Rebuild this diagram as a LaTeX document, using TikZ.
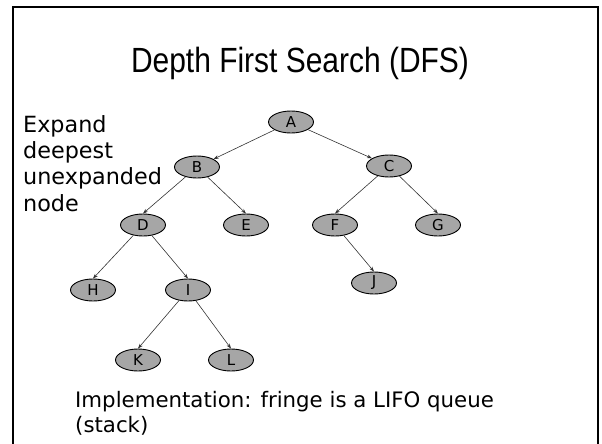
\documentclass[tikz,border=0pt]{standalone}
\usepackage{fontspec}
\setmainfont{DejaVu Sans}
\newfontfamily\titlefont{Liberation Sans}
\usetikzlibrary{shapes.geometric,arrows.meta}
\definecolor{nodegray}{HTML}{A6A6A6}
\definecolor{edgegray}{HTML}{333333}
\begin{document}
\begin{tikzpicture}[x=1pt,y=-1pt,
  tnode/.style={ellipse,draw=black,line width=0.9pt,fill=nodegray,
    minimum width=45pt,minimum height=22pt,inner sep=0pt,
    font=\fontsize{15}{15}\selectfont},
  conn/.style={draw=edgegray,line width=0.6pt,-{Stealth[length=5pt,width=3.6pt]}},
  bodytext/.style={anchor=base west,align=left,inner sep=0pt,
    font=\fontsize{21.3}{26.3}\selectfont}]
\useasboundingbox (0,0) rectangle (602,444);
\draw[line width=2.5pt] (13,7) rectangle (598,452);
\node[anchor=base,inner sep=0pt,font=\titlefont\fontsize{35}{35}\selectfont] (title) at (300,73)
  {\scalebox{0.856}[1]{Depth First Search (DFS)}};
% multi-line nodes: base anchor is the baseline of the last line
\node[bodytext,font=\fontsize{22.3}{26.3}\selectfont] (expand) at (23,211)
  {Expand\\deepest\\unexpanded\\node};
\node[bodytext,font=\fontsize{21.3}{25}\selectfont] (impl) at (75,432)
  {Implementation: fringe is a LIFO queue\\(stack)};
\node[tnode] (A) at (291,122) {A};
\node[tnode] (B) at (197,167) {B};
\node[tnode] (C) at (389,166) {C};
\node[tnode] (D) at (143,225) {D};
\node[tnode] (E) at (246,225) {E};
\node[tnode] (F) at (335,225) {F};
\node[tnode] (G) at (438,225) {G};
\node[tnode] (H) at (93,290) {H};
\node[tnode] (I) at (188,290) {I};
\node[tnode] (J) at (374,283) {J};
\node[tnode] (K) at (138,360) {K};
\node[tnode] (L) at (231,360) {L};
\draw[conn] (A) -- (B);
\draw[conn] (A) -- (C);
\draw[conn] (B) -- (D.north);
\draw[conn] (B) -- (E.north);
\draw[conn] (C) -- (F.north);
\draw[conn] (C) -- (G.north);
\draw[conn] (D) -- (H.north);
\draw[conn] (D) -- (I.north);
\draw[conn] (F) -- (J.north);
\draw[conn] (I) -- (K.north);
\draw[conn] (I) -- (L.north);
\end{tikzpicture}
\end{document}
